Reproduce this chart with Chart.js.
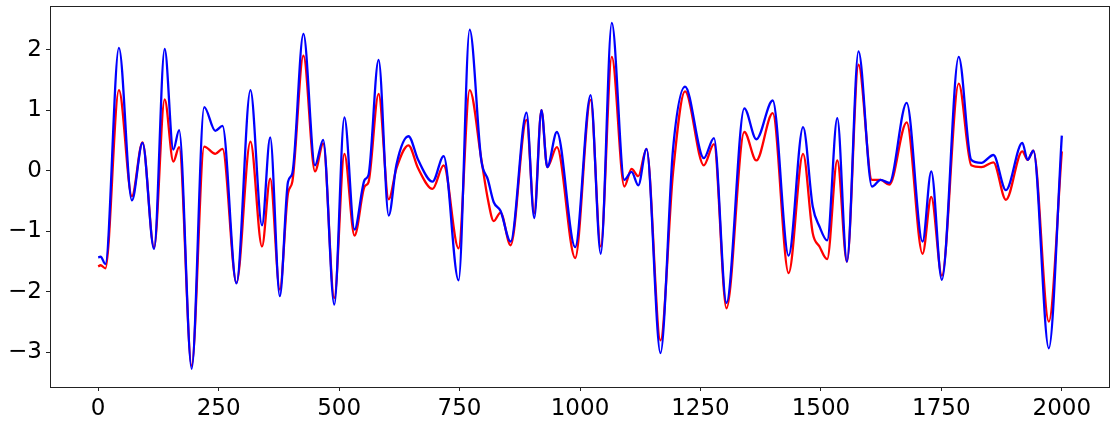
<!DOCTYPE html>
<html>
<head>
<meta charset="utf-8">
<title>Signal comparison</title>
<script src="https://cdn.jsdelivr.net/npm/chart.js@4/dist/chart.umd.min.js"></script>
<style>
  html, body { margin: 0; padding: 0; background: #ffffff; }
  #chart { display: block; }
</style>
</head>
<body>
<canvas id="chart" width="1117" height="425"></canvas>
<script>
// Sample positions (shared by both series)
const xValues = [
  0, 5, 15, 43, 70, 92, 116, 138, 156, 168, 194, 220, 243, 258, 287,
  316, 340, 357, 377, 394, 403, 426, 450, 467, 490, 511, 532, 553, 561, 582,
  603, 619, 644, 664, 694, 717, 748, 771, 795, 809, 821, 835, 856, 889, 905,
  920, 932, 952, 990, 1022, 1043, 1066, 1092, 1107, 1121, 1138, 1167, 1193, 1218, 1257,
  1278, 1304, 1341, 1366, 1400, 1433, 1463, 1483, 1497, 1513, 1534, 1554, 1578, 1606, 1624,
  1642, 1678, 1711, 1729, 1751, 1786, 1812, 1833, 1858, 1884, 1918, 1929, 1941, 1973, 2000
];

// Red series
const redValues = [
  -1.58, -1.56, -1.61, 1.33, -0.42, 0.47, -1.27, 1.18, 0.15, 0.39, -3.22, 0.40, 0.28, 0.36, -1.85,
  0.48, -1.25, -0.13, -1.96, -0.37, -0.18, 1.90, -0.01, 0.45, -2.10, 0.28, -1.07, -0.26, -0.19, 1.27,
  -0.47, 0.04, 0.42, 0.04, -0.30, 0.09, -1.28, 1.33, 0.20, -0.48, -0.83, -0.69, -1.23, 0.84, -0.70,
  1.00, 0.06, 0.39, -1.44, 1.17, -1.25, 1.88, -0.26, 0.03, -0.09, 0.36, -2.80, -0.04, 1.31, 0.09,
  0.44, -2.27, 0.64, 0.17, 0.95, -1.69, 0.28, -1.03, -1.25, -1.46, 0.17, -1.50, 1.75, -0.15, -0.15,
  -0.23, 0.80, -1.37, -0.43, -1.73, 1.44, 0.09, 0.06, 0.14, -0.48, 0.32, 0.18, 0.33, -2.49, 0.32
];

// Blue series
const blueValues = [
  -1.43, -1.42, -1.54, 2.03, -0.49, 0.46, -1.29, 2.01, 0.35, 0.67, -3.27, 1.05, 0.66, 0.74, -1.86,
  1.33, -0.90, 0.55, -2.07, -0.18, -0.04, 2.26, 0.09, 0.51, -2.21, 0.88, -0.97, -0.15, -0.07, 1.83,
  -0.74, 0.10, 0.57, 0.18, -0.18, 0.24, -1.81, 2.33, 0.18, -0.15, -0.52, -0.66, -1.17, 0.96, -0.78,
  1.00, 0.06, 0.64, -1.26, 1.25, -1.37, 2.44, -0.15, -0.02, -0.24, 0.36, -3.01, 0.35, 1.39, 0.21,
  0.54, -2.18, 1.03, 0.52, 1.16, -1.40, 0.72, -0.59, -0.92, -1.15, 0.87, -1.50, 1.97, -0.26, -0.15,
  -0.20, 1.12, -1.17, -0.01, -1.80, 1.88, 0.18, 0.13, 0.26, -0.32, 0.46, 0.18, 0.33, -2.93, 0.58
];

// Tick labels
const xTicks = [0, 250, 500, 750, 1000, 1250, 1500, 1750, 2000];
const yTicks = [-3, -2, -1, 0, 1, 2];

const toPoints = (values) => values.map((y, i) => ({ x: xValues[i], y: y }));

// matplotlib style minus sign
const formatTick = (v) => (v < 0 ? '\u2212' + Math.abs(v) : String(v));

// Draw the full box around the plot area
const framePlugin = {
  id: 'frame',
  afterDraw(chart) {
    const { ctx, chartArea } = chart;
    ctx.save();
    ctx.strokeStyle = '#222222';
    ctx.lineWidth = 1;
    ctx.strokeRect(
      Math.round(chartArea.left) + 0.5,
      Math.round(chartArea.top) + 0.5,
      Math.round(chartArea.right - chartArea.left) - 1,
      Math.round(chartArea.bottom - chartArea.top)
    );
    ctx.restore();
  }
};

const tickFont = { family: 'DejaVu Sans', size: 23 };

const ctx = document.getElementById('chart').getContext('2d');
new Chart(ctx, {
  type: 'line',
  data: {
    datasets: [
      {
        label: 'blue',
        data: toPoints(blueValues),
        borderColor: '#0000ff',
        borderWidth: 2.3,
        pointRadius: 0,
        cubicInterpolationMode: 'monotone',
        fill: false
      },
      {
        label: 'red',
        data: toPoints(redValues),
        borderColor: '#ff0000',
        borderWidth: 2.3,
        pointRadius: 0,
        cubicInterpolationMode: 'monotone',
        fill: false
      }
    ]
  },
  options: {
    responsive: false,
    animation: false,
    devicePixelRatio: 1,
    layout: {
      padding: { top: 6, right: 7, left: 0, bottom: 0 }
    },
    plugins: {
      legend: { display: false },
      tooltip: { enabled: false }
    },
    scales: {
      x: {
        type: 'linear',
        min: -100,
        max: 2100,
        afterBuildTicks: (axis) => { axis.ticks = xTicks.map(v => ({ value: v })); },
        afterFit: (axis) => { axis.height = 38; },
        border: { display: false },
        grid: { drawOnChartArea: false, drawTicks: true, tickLength: 4, color: '#222222' },
        ticks: {
          font: tickFont,
          color: '#000000',
          padding: 4,
          maxRotation: 0,
          autoSkip: false,
          callback: formatTick
        }
      },
      y: {
        type: 'linear',
        min: -3.57,
        max: 2.72,
        afterBuildTicks: (axis) => { axis.ticks = yTicks.map(v => ({ value: v })); },
        afterFit: (axis) => {
          axis.width = 50;
          // the end labels sit well inside the range, so no extra room is needed
          axis.paddingTop = 0;
          axis.paddingBottom = 0;
        },
        border: { display: false },
        grid: { drawOnChartArea: false, drawTicks: true, tickLength: 4, color: '#222222' },
        ticks: {
          font: tickFont,
          color: '#000000',
          padding: 4,
          autoSkip: false,
          callback: formatTick
        }
      }
    }
  },
  plugins: [framePlugin]
});
</script>
</body>
</html>
